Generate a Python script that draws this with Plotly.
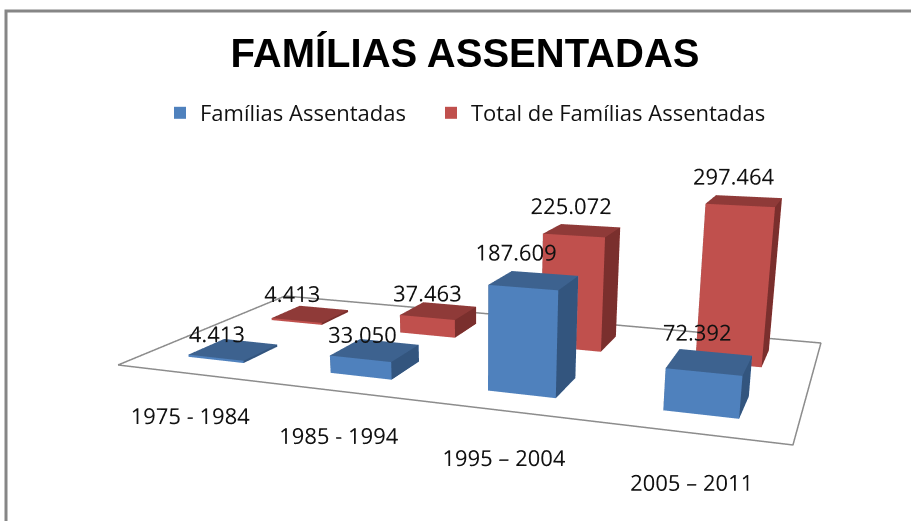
import numpy as np
import plotly.graph_objects as go

# ---- data ----
periods = ["1975 - 1984", "1985 - 1994", "1995 – 2004", "2005 – 2011"]
series_names = ["Famílias Assentadas", "Total de Famílias Assentadas"]
familias = [4413, 33050, 187609, 72392]
total = [4413, 37463, 225072, 297464]
familias_labels = ["4.413", "33.050", "187.609", "72.392"]
total_labels = ["4.413", "37.463", "225.072", "297.464"]

# ---- styles ----
BLUE = dict(front="#4F81BD", top="#3D628F", side="#33557E")
RED = dict(front="#C0504D", top="#8F3A38", side="#7A2F2D")
FONT = "Open Sans"
TEXT = "#111111"

# label nudges: along the category axis, and in value units
label_du = [[-0.07, -0.013, -0.02, 0.026], [-0.085, -0.007, 0.013, 0.033]]
label_dh = [[18000, 18000, 40000, 40000], [34000, 28000, 42000, 40000]]
LABEL_NEARER = 0.7  # labels slide along the view ray so bars never hide them

# ---- oblique chart-space view, applied before the scene camera ----
# (category position U, series depth V, value h) -> scene coordinates
S, FOCAL = 0.5, 629.0
H_SCALE = 0.94
VX = np.array([607.76 / 4, 121.01 / 2, -4.07e-6 * H_SCALE, -337.5])
VY = np.array([-0.19924 / 4, 0.26974 / 2, -1.626e-7 * H_SCALE, 0.0])
VZ = np.array([-43.24 / 4, 59.42 / 2, 5.59e-4 * H_SCALE, -104.5])


def to_scene(U, V, h):
    p = np.array([U, V, h, 1.0], dtype=float)
    return S / FOCAL * (VX @ p), S * (VY @ p), S / FOCAL * (VZ @ p)


def nearer(p, t=LABEL_NEARER):
    return p[0] * t, -S + t * (p[1] + S), p[2] * t


BAR = 0.4


def box(i, row, value, colors, name):
    x0, x1 = i + 0.5 - BAR / 2, i + 0.5 + BAR / 2
    y0, y1 = row + 0.5 - BAR / 2, row + 0.5 + BAR / 2
    corners = [(x0, y0, 0), (x1, y0, 0), (x1, y1, 0), (x0, y1, 0),
               (x0, y0, value), (x1, y0, value), (x1, y1, value), (x0, y1, value)]
    pts = np.array([to_scene(*c) for c in corners])
    quads = [((0, 1, 5, 4), "front"), ((4, 5, 6, 7), "top"), ((1, 2, 6, 5), "side"),
             ((0, 3, 7, 4), "side"), ((3, 2, 6, 7), "front"), ((0, 1, 2, 3), "front")]
    I, J, K, fc = [], [], [], []
    for q, key in quads:
        for tri in ((q[0], q[1], q[2]), (q[0], q[2], q[3])):
            I.append(tri[0]); J.append(tri[1]); K.append(tri[2]); fc.append(colors[key])
    return go.Mesh3d(x=pts[:, 0], y=pts[:, 1], z=pts[:, 2], i=I, j=J, k=K, facecolor=fc,
                     flatshading=True, showscale=False, hoverinfo="skip", name=name,
                     showlegend=False,
                     lighting=dict(ambient=1, diffuse=0, specular=0, fresnel=0, roughness=1))


fig = go.Figure()

# floor outline
floor = np.array([to_scene(*c, 0) for c in [(0, 0), (4, 0), (4, 2), (0, 2), (0, 0)]])
fig.add_trace(go.Scatter3d(x=floor[:, 0], y=floor[:, 1], z=floor[:, 2], mode="lines",
                           line=dict(color="#8c8c8c", width=3), showlegend=False, hoverinfo="skip"))

# bars
for row, (vals, cols, nm) in enumerate([(familias, BLUE, series_names[0]), (total, RED, series_names[1])]):
    for i, v in enumerate(vals):
        fig.add_trace(box(i, row, v, cols, nm))

# value labels
for row, (vals, labs) in enumerate([(familias, familias_labels), (total, total_labels)]):
    pts = np.array([nearer(to_scene(i + 0.38 + label_du[row][i], row + 0.6, v + label_dh[row][i]))
                    for i, v in enumerate(vals)])
    fig.add_trace(go.Scatter3d(x=pts[:, 0], y=pts[:, 1], z=pts[:, 2], mode="text", text=labs,
                               textposition="middle center", showlegend=False, hoverinfo="skip",
                               textfont=dict(family=FONT, size=22, color=TEXT)))

# category labels
pts = np.array([to_scene(0.975 + 0.878 * i, -0.65, 0) for i in range(len(periods))])
fig.add_trace(go.Scatter3d(x=pts[:, 0], y=pts[:, 1], z=pts[:, 2], mode="text", text=periods,
                           textposition="middle center", showlegend=False, hoverinfo="skip",
                           textfont=dict(family=FONT, size=22, color=TEXT)))

# legend entries, one legend per series
for nm, c, lg in zip(series_names, (BLUE["front"], RED["front"]), ("legend", "legend2")):
    fig.add_trace(go.Scatter3d(x=[None], y=[None], z=[None], mode="markers", name=nm, legend=lg,
                               marker=dict(symbol="square", size=16, color=c), hoverinfo="skip"))

ax = dict(visible=False, range=[-0.5, 0.5], autorange=False)
legend_style = dict(orientation="h", y=1 - 113 / 521, xanchor="left", yanchor="middle",
                    font=dict(family=FONT, size=22, color=TEXT), itemsizing="constant",
                    bgcolor="rgba(0,0,0,0)")
fig.update_layout(
    width=911, height=521, margin=dict(l=0, r=0, t=0, b=0),
    paper_bgcolor="white", showlegend=True,
    title=dict(text="<b>FAMÍLIAS ASSENTADAS</b>", x=465 / 911, xanchor="center", y=1 - 53 / 521, yanchor="middle",
               font=dict(family="Liberation Sans", size=40, color="black")),
    legend=dict(x=160 / 911, **legend_style),
    legend2=dict(x=431 / 911, **legend_style),
    scene=dict(xaxis=ax, yaxis=ax, zaxis=ax, aspectmode="manual", aspectratio=dict(x=1, y=1, z=1),
               domain=dict(x=[0, 1], y=[0, 1]), bgcolor="white", dragmode=False,
               camera=dict(eye=dict(x=0, y=-S, z=0), center=dict(x=0, y=0, z=0), up=dict(x=0, y=0, z=1))),
    shapes=[dict(type="path", xref="paper", yref="paper",
                 path=f"M {6 / 911} 0 L {6 / 911} {1 - 11 / 521} L 1 {1 - 11 / 521}",
                 line=dict(color="#868686", width=3))],
)
fig.write_html("out.html", config={"displayModeBar": False},
               post_script="document.body.style.margin='0';")
